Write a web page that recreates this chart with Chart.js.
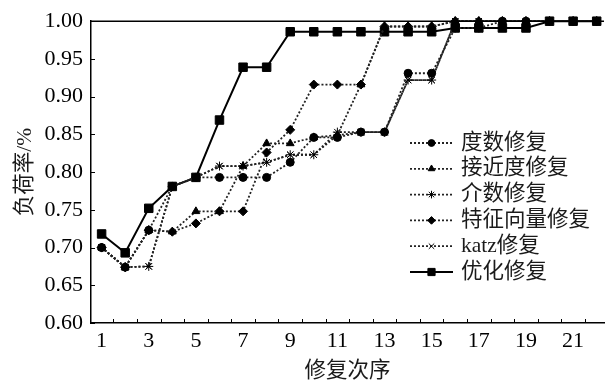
<!DOCTYPE html>
<html lang="zh">
<head>
<meta charset="UTF-8">
<title>修复次序与负荷率</title>
<script src="https://cdn.jsdelivr.net/npm/chart.js"></script>
<style>
  html, body { margin: 0; padding: 0; background: #fff; }
</style>
</head>
<body>
<canvas id="loadChart" width="611" height="380"></canvas>
<script>
// repair step (x) and load rate of each strategy (y)
const repairOrder = [1, 2, 3, 4, 5, 6, 7, 8, 9, 10, 11, 12, 13, 14, 15, 16, 17, 18, 19, 20, 21, 22];
const xTickLabels = [1, 3, 5, 7, 9, 11, 13, 15, 17, 19, 21];
const yTickValues = [0.60, 0.65, 0.70, 0.75, 0.80, 0.85, 0.90, 0.95, 1.00];

const seriesNames = ['度数修复', '接近度修复', '介数修复', '特征向量修复', 'katz修复', '优化修复'];

const degreeRepair    = [0.700, 0.674, 0.723, 0.781, 0.793, 0.793, 0.793, 0.793, 0.813, 0.846, 0.846, 0.853, 0.853, 0.931, 0.931, 0.991, 0.991, 1.000, 1.000, 1.000, 1.000, 1.000];
const closenessRepair = [0.700, 0.674, 0.723, 0.721, 0.748, 0.748, 0.808, 0.838, 0.838, 0.846, 0.849, 0.916, 0.993, 0.993, 0.993, 1.000, 1.000, 1.000, 1.000, 1.000, 1.000, 1.000];
const betweenRepair   = [0.700, 0.674, 0.675, 0.781, 0.793, 0.808, 0.808, 0.813, 0.823, 0.823, 0.853, 0.853, 0.853, 0.922, 0.922, 1.000, 1.000, 1.000, 1.000, 1.000, 1.000, 1.000];
const eigenRepair     = [0.700, 0.674, 0.723, 0.721, 0.732, 0.748, 0.748, 0.826, 0.856, 0.916, 0.916, 0.916, 0.993, 0.993, 0.993, 1.000, 1.000, 1.000, 1.000, 1.000, 1.000, 1.000];
const katzRepair      = [0.700, 0.674, 0.675, 0.781, 0.793, 0.808, 0.808, 0.813, 0.823, 0.823, 0.849, 0.853, 0.853, 0.922, 0.922, 1.000, 1.000, 1.000, 1.000, 1.000, 1.000, 1.000];
const optimalRepair   = [0.718, 0.693, 0.752, 0.781, 0.793, 0.869, 0.939, 0.939, 0.986, 0.986, 0.986, 0.986, 0.986, 0.986, 0.986, 0.991, 0.991, 0.991, 0.991, 1.000, 1.000, 1.000];

const allSeries = [degreeRepair, closenessRepair, betweenRepair, eigenRepair, katzRepair, optimalRepair];

const SERIF = '"Liberation Serif", "Noto Sans CJK SC", serif';
const markerStyles = ['circle', 'triangle', 'star', 'rectRot', 'crossRot', 'rect'];
const markerSizes = [4, 4.5, 4.5, 4.5, 4.5, 6];

const datasets = allSeries.map((vals, i) => {
    const solid = i === allSeries.length - 1;
    return {
        label: seriesNames[i],
        data: repairOrder.map((x, k) => ({ x: x, y: vals[k] })),
        borderColor: solid ? '#000' : '#222',
        backgroundColor: '#000',
        borderWidth: solid ? 2 : 1.8,
        borderDash: solid ? [] : [2, 2],
        pointStyle: markerStyles[i],
        pointRadius: markerSizes[i],
        pointBorderWidth: 1,
        pointBorderColor: '#000',
        pointBackgroundColor: '#000',
        tension: 0,
        clip: false
    };
});

// top frame line, inward tick marks and the line+marker legend
const frameAndLegend = {
    id: 'frameAndLegend',
    afterDraw(chart) {
        const { ctx, chartArea: a, scales } = chart;
        ctx.save();
        ctx.strokeStyle = '#000';
        ctx.lineWidth = 1.5;
        ctx.beginPath();
        ctx.moveTo(a.left, a.top);
        ctx.lineTo(a.right, a.top);
        ctx.stroke();

        ctx.lineWidth = 1;
        ctx.beginPath();
        for (let v = 1.5; v < 22.3; v += 1) {
            const px = Math.round(scales.x.getPixelForValue(v)) + 0.5;
            ctx.moveTo(px, a.bottom);
            ctx.lineTo(px, a.bottom - 4);
        }
        yTickValues.forEach(v => {
            const py = Math.round(scales.y.getPixelForValue(v)) + 0.5;
            ctx.moveTo(a.left, py);
            ctx.lineTo(a.left + 4, py);
        });
        ctx.stroke();

        // legend
        const x0 = 410, x1 = 453, tx = 461, y0 = 143, dy = 25.8;
        chart.data.datasets.forEach((ds, i) => {
            const yy = y0 + i * dy;
            ctx.beginPath();
            ctx.strokeStyle = ds.borderColor;
            ctx.lineWidth = ds.borderWidth;
            ctx.setLineDash(ds.borderDash);
            ctx.moveTo(x0, yy);
            ctx.lineTo(x1, yy);
            ctx.stroke();
            ctx.setLineDash([]);
            ctx.fillStyle = '#000';
            ctx.strokeStyle = '#000';
            ctx.lineWidth = 1;
            if (Chart.helpers && Chart.helpers.drawPoint) {
                Chart.helpers.drawPoint(ctx, {
                    pointStyle: ds.pointStyle,
                    radius: ds.pointRadius * 0.85,
                    rotation: 0,
                    borderWidth: 1
                }, (x0 + x1) / 2, yy);
            }
            ctx.font = '21.5px ' + SERIF;
            ctx.textBaseline = 'middle';
            ctx.textAlign = 'left';
            ctx.fillStyle = '#1a1a1a';
            ctx.fillText(ds.label, tx, yy);
        });
        ctx.restore();
    }
};

new Chart(document.getElementById('loadChart'), {
    type: 'line',
    data: { datasets: datasets },
    options: {
        responsive: false,
        animation: false,
        layout: { padding: { top: 21, right: 0, left: 0, bottom: 0 } },
        plugins: {
            legend: { display: false },
            tooltip: { enabled: false }
        },
        scales: {
            x: {
                type: 'linear',
                min: 0.55,
                max: 22.31,
                afterBuildTicks: scale => {
                    scale.ticks = xTickLabels.map(v => ({ value: v }));
                },
                afterFit: scale => { scale.height = 57; },
                grid: { display: true, drawOnChartArea: false, drawTicks: false },
                border: { display: true, color: '#000', width: 1.5 },
                ticks: {
                    color: '#000',
                    padding: 5,
                    maxRotation: 0,
                    autoSkip: false,
                    font: { family: SERIF, size: 22 },
                    callback: v => String(v)
                },
                title: {
                    display: true,
                    text: '修复次序',
                    color: '#1a1a1a',
                    padding: { top: 0, bottom: -4 },
                    font: { family: SERIF, size: 21.5 }
                }
            },
            y: {
                min: 0.6,
                max: 1.0,
                afterBuildTicks: scale => {
                    scale.ticks = yTickValues.map(v => ({ value: v }));
                },
                afterFit: scale => { scale.width = 91; },
                grid: { display: true, drawOnChartArea: false, drawTicks: false },
                border: { display: true, color: '#000', width: 1.5 },
                ticks: {
                    color: '#000',
                    padding: 8,
                    font: { family: SERIF, size: 22 },
                    callback: v => Number(v).toFixed(2)
                },
                title: {
                    display: true,
                    text: '负荷率/%',
                    color: '#1a1a1a',
                    padding: { top: 12, bottom: 0 },
                    font: { family: SERIF, size: 21.5 }
                }
            }
        }
    },
    plugins: [frameAndLegend]
});
</script>
</body>
</html>
